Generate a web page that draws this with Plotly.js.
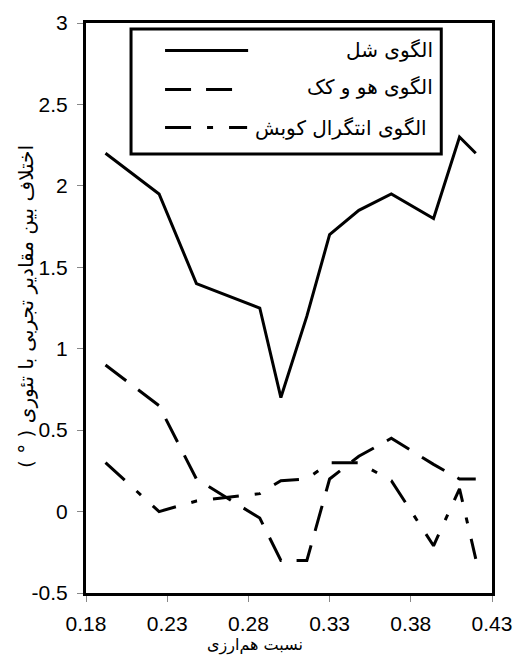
<!DOCTYPE html>
<html>
<head>
<meta charset="utf-8">
<script src="https://cdn.plot.ly/plotly-3.0.1.min.js"></script>
<style>html,body{margin:0;padding:0;background:#fff;}#chart{width:514px;height:660px;}</style>
</head>
<body>
<div id="chart"></div>
<script>
// ---- data ----
const ratio = [0.192, 0.225, 0.248, 0.287, 0.30, 0.316, 0.33, 0.348, 0.368, 0.394, 0.41, 0.42];
const shellModel = [2.2, 1.95, 1.4, 1.25, 0.7, 1.2, 1.7, 1.85, 1.95, 1.8, 2.3, 2.2];
const huKuckModel = [0.9, 0.65, 0.2, -0.04, -0.3, -0.3, 0.2, 0.34, 0.45, 0.29, 0.2, 0.2];
const kobeshModel = [0.3, 0.0, 0.065, 0.11, 0.19, 0.2, 0.3, 0.3, 0.19, -0.21, 0.14, -0.29];
const seriesNames = ['الگوی شل', 'الگوی هو و کک', 'الگوی انتگرال کوبش'];
const xTickVals = [0.18, 0.23, 0.28, 0.33, 0.38, 0.43];
const xTickText = ['0.18', '0.23', '0.28', '0.33', '0.38', '0.43'];
const yTickVals = [-0.5, 0, 0.5, 1, 1.5, 2, 2.5, 3];
const yTickText = ['-0.5', '0', '0.5', '1', '1.5', '2', '2.5', '3'];
const xTitle = 'نسبت هم\u200Cارزی';
const yTitle = 'اختلاف بین مقادیر تجربی با تئوری ( ° )\u200F';

// ---- styles ----
const FONT = 'Liberation Sans, Arial, DejaVu Sans, sans-serif';
const AFONT = 'DejaVu Sans, sans-serif';
const dashStyles = ['solid', '26px,15px', '26px,16px,6px,16px'];
const ys = [shellModel, huKuckModel, kobeshModel];

const traces = ys.map((y, i) => ({
  x: ratio, y: y, type: 'scatter', mode: 'lines', name: seriesNames[i],
  line: {color: '#000', width: 3, dash: dashStyles[i]}, showlegend: false
}));

// plot area in pixels: left 86, right 491.7, top 23, bottom 593
const L = 86, R = 491.7, T = 23, B = 593;
const px = v => (v - L) / (R - L);
const py = v => (B - v) / (B - T);

const shapes = [
  {type: 'rect', xref: 'paper', yref: 'paper', x0: px(131), x1: px(441), y0: py(154), y1: py(29),
   line: {color: '#000', width: 3}, fillcolor: '#fff', layer: 'above'}
];
const rowY = [50.5, 89.5, 127.5];
const sampleX1 = [248, 237, 247];
rowY.forEach((ry, i) => {
  shapes.push({type: 'line', xref: 'paper', yref: 'paper', x0: px(165), x1: px(sampleX1[i]), y0: py(ry), y1: py(ry),
    line: {color: '#000', width: 3, dash: dashStyles[i]}, layer: 'above'});
});
const textRight = [435, 435, 429];
const textY = [50, 87, 128];
const annotations = seriesNames.map((n, i) => ({
  text: n, xref: 'paper', yref: 'paper', x: px(textRight[i]), y: py(textY[i]),
  xanchor: 'right', yanchor: 'middle', showarrow: false,
  font: {family: AFONT, size: 20, color: '#000'}
}));
annotations.push({text: xTitle, xref: 'paper', yref: 'paper', x: px(255), y: py(645),
  xanchor: 'center', yanchor: 'middle', showarrow: false, font: {family: AFONT, size: 16, color: '#000'}});
annotations.push({text: yTitle, xref: 'paper', yref: 'paper', x: px(26), y: py(306), textangle: -90,
  xanchor: 'center', yanchor: 'middle', showarrow: false, font: {family: AFONT, size: 20, color: '#000'}});

const layout = {
  width: 514, height: 660,
  margin: {l: L, r: 514 - R, t: T, b: 660 - B, pad: 0},
  paper_bgcolor: '#fff', plot_bgcolor: '#fff',
  font: {family: FONT, size: 21, color: '#000'},
  showlegend: false,
  xaxis: {range: [0.18, 0.43], tickvals: xTickVals, ticktext: xTickText,
    showgrid: false, zeroline: false, showline: true, mirror: true, linecolor: '#000', linewidth: 3,
    ticks: 'outside', ticklen: 6, tickwidth: 1, tickcolor: '#888', ticklabelstandoff: 4,
    tickfont: {family: FONT, size: 21, color: '#000'}},
  yaxis: {range: [-0.5, 3], tickvals: yTickVals, ticktext: yTickText,
    showgrid: false, zeroline: false, showline: true, mirror: true, linecolor: '#000', linewidth: 3,
    ticks: 'outside', ticklen: 6, tickwidth: 1, tickcolor: '#888', ticklabelstandoff: 5,
    tickfont: {family: FONT, size: 21, color: '#000'}},
  shapes: shapes,
  annotations: annotations
};

Plotly.newPlot('chart', traces, layout, {displayModeBar: false, staticPlot: true});
</script>
</body>
</html>
